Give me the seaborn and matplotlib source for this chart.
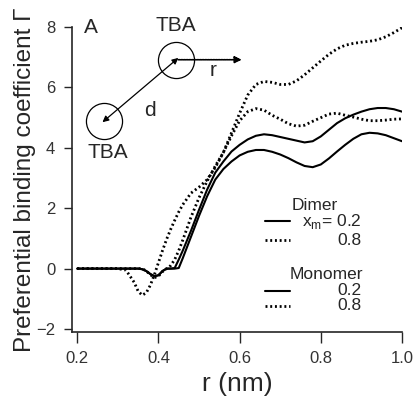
import numpy as np
import pandas as pd
import matplotlib
matplotlib.use("Agg")
import matplotlib.pyplot as plt
import seaborn as sns
from matplotlib.lines import Line2D

# values
r_nm = [0.20, 0.30, 0.32, 0.34, 0.35, 0.36, 0.37, 0.38, 0.39, 0.40, 0.41, 0.42,
        0.43, 0.44, 0.45, 0.46, 0.48, 0.50, 0.52, 0.54, 0.56, 0.58, 0.60, 0.62,
        0.64, 0.66, 0.68, 0.70, 0.72, 0.74, 0.76, 0.78, 0.80, 0.82, 0.84, 0.86,
        0.88, 0.90, 0.92, 0.94, 0.96, 0.98, 1.00]

dimer_02 = [0, 0, 0, 0, 0, -0.02, -0.08, -0.18, -0.25, -0.22, -0.08, 0,
            0, 0.02, 0.3, 0.6, 1.25, 1.95, 2.62, 3.18, 3.55, 3.88, 4.1, 4.28,
            4.4, 4.45, 4.42, 4.36, 4.3, 4.24, 4.18, 4.22, 4.38, 4.6, 4.82, 4.98,
            5.1, 5.2, 5.28, 5.32, 5.32, 5.28, 5.2]

monomer_02 = [0, 0, 0, 0, 0, -0.02, -0.08, -0.18, -0.25, -0.22, -0.08, 0,
              0, 0, 0.02, 0.35, 1.05, 1.75, 2.4, 2.95, 3.3, 3.55, 3.75, 3.87,
              3.93, 3.93, 3.87, 3.78, 3.66, 3.52, 3.4, 3.36, 3.45, 3.65, 3.88, 4.1,
              4.3, 4.45, 4.5, 4.48, 4.42, 4.32, 4.22]

dimer_08 = [0, 0, 0, 0, 0, 0, -0.08, -0.2, -0.3, -0.25, -0.1, 0,
            0.1, 0.3, 0.6, 0.95, 1.7, 2.35, 2.9, 3.4, 3.85, 4.5, 5.15, 5.75,
            6.1, 6.2, 6.17, 6.1, 6.1, 6.22, 6.42, 6.65, 6.88, 7.1, 7.28, 7.4,
            7.46, 7.5, 7.53, 7.58, 7.68, 7.82, 7.98]

monomer_08 = [0, 0, -0.05, -0.45, -0.75, -0.88, -0.8, -0.55, -0.2, 0.2, 0.6, 0.97,
              1.3, 1.6, 1.88, 2.12, 2.5, 2.7, 2.95, 3.35, 3.85, 4.4, 4.9, 5.2,
              5.3, 5.25, 5.08, 4.95, 4.8, 4.72, 4.75, 4.88, 5.0, 5.12, 5.15, 5.08,
              5.02, 4.95, 4.9, 4.9, 4.92, 4.95, 4.96]

x_ticks = [0.2, 0.4, 0.6, 0.8, 1.0]
y_ticks = [-2, 0, 2, 4, 6, 8]

df = pd.DataFrame({"r": r_nm, "dimer_02": dimer_02, "dimer_08": dimer_08,
                   "monomer_02": monomer_02, "monomer_08": monomer_08})

sns.set_style("ticks")
plt.rcParams["font.family"] = ["Liberation Sans", "DejaVu Sans"]

solid = dict(color="black", lw=1.5)
dotted = dict(color="black", lw=2.0, linestyle=(0, (0.7, 1.0)))

fig = plt.figure(figsize=(4.15, 3.97), dpi=100)
ax = fig.add_axes([0.1735, 0.1637, 0.7952, 0.7680])

sns.lineplot(data=df, x="r", y="dimer_02", ax=ax, **solid)
sns.lineplot(data=df, x="r", y="monomer_02", ax=ax, **solid)
sns.lineplot(data=df, x="r", y="dimer_08", ax=ax, **dotted)
sns.lineplot(data=df, x="r", y="monomer_08", ax=ax, **dotted)

ax.set_xlim(0.187, 1.0)
ax.set_ylim(-2.1, 8.0)
ax.set_xticks(x_ticks)
ax.set_xticklabels(["0.2", "0.4", "0.6", "0.8", "1.0"])
ax.set_yticks(y_ticks)
ax.tick_params(axis="x", length=8, width=1, pad=6, labelsize=12, labelcolor="#333333")
ax.tick_params(axis="y", length=6, width=1, pad=6, labelsize=12, labelcolor="#333333")
for s in ["top", "right"]:
    ax.spines[s].set_visible(False)
for s in ["left", "bottom"]:
    ax.spines[s].set_linewidth(1.2)
ax.set_xlabel("r (nm)", fontsize=19, labelpad=4)
ax.set_ylabel("Preferential binding coefficient Γ", fontsize=17.5, labelpad=0)

# inset sketch
ax.text(0.233, 7.98, "A", fontsize=15, va="center", ha="center")
ax.text(0.442, 8.05, "TBA", fontsize=15, va="center", ha="center")
ax.text(0.276, 3.85, "TBA", fontsize=15, va="center", ha="center")
ax.plot([0.444], [6.9], marker="o", ms=26, mfc="none", mec="black", mew=0.9)
ax.plot([0.266], [4.9], marker="o", ms=26, mfc="none", mec="black", mew=0.9)
ax.annotate("", xy=(0.449, 6.98), xytext=(0.262, 4.85),
            arrowprops=dict(arrowstyle="<|-|>", color="black", lw=0.9,
                            mutation_scale=9, shrinkA=0, shrinkB=0))
ax.annotate("", xy=(0.605, 6.92), xytext=(0.449, 6.92),
            arrowprops=dict(arrowstyle="-|>", color="black", lw=1.2,
                            linestyle=(0, (1, 0.6)), mutation_scale=10,
                            shrinkA=0, shrinkB=0))
ax.text(0.38, 5.25, "d", fontsize=15, va="center", ha="center")
ax.text(0.535, 6.55, "r", fontsize=15, va="center", ha="center")

# legend
tr = ax.transAxes
fs = 12.5
ax.text(0.665, 0.414, "Dimer", transform=tr, fontsize=fs, va="center", ha="left")
ax.add_line(Line2D([0.585, 0.66], [0.364, 0.364], transform=tr, **solid))
ax.text(0.877, 0.364, "x$_\\mathregular{m}$= 0.2", transform=tr, fontsize=fs, va="center", ha="right")
ax.add_line(Line2D([0.585, 0.66], [0.301, 0.301], transform=tr, **dotted))
ax.text(0.877, 0.301, "0.8", transform=tr, fontsize=fs, va="center", ha="right")
ax.text(0.66, 0.189, "Monomer", transform=tr, fontsize=fs, va="center", ha="left")
ax.add_line(Line2D([0.585, 0.66], [0.136, 0.136], transform=tr, **solid))
ax.text(0.877, 0.136, "0.2", transform=tr, fontsize=fs, va="center", ha="right")
ax.add_line(Line2D([0.585, 0.66], [0.086, 0.086], transform=tr, **dotted))
ax.text(0.877, 0.086, "0.8", transform=tr, fontsize=fs, va="center", ha="right")

fig.savefig("out.png", dpi=100)
